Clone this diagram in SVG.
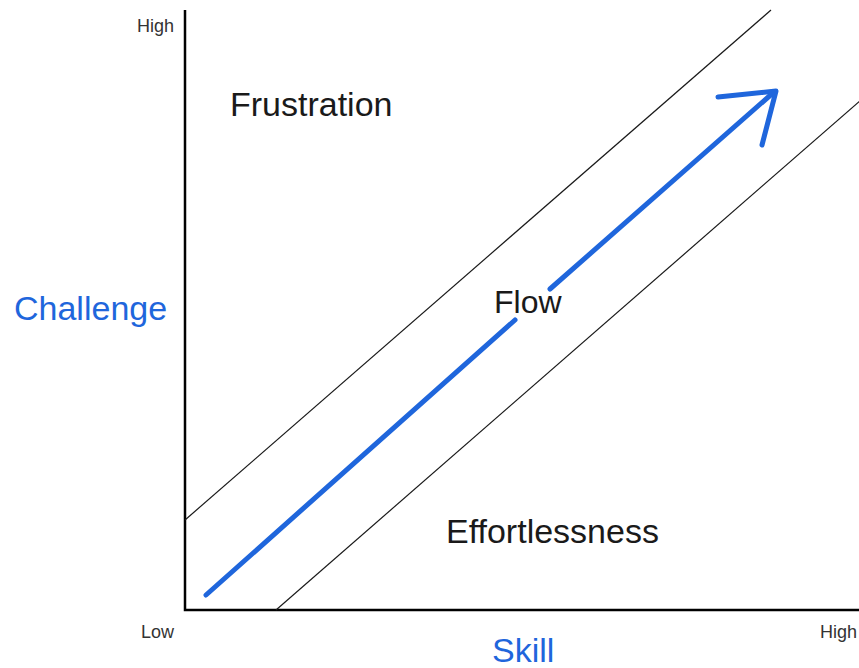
<svg xmlns="http://www.w3.org/2000/svg" width="859" height="668" viewBox="0 0 859 668">
  <style>
    .lbl { font-family: "Liberation Sans", Arial, sans-serif; fill: #1a1a1a; }
    .big { font-size: 34px; }
    .tick { font-size: 18px; fill: #333333; }
    .axisname { font-size: 34px; fill: #1f66dc; }
    .axis { stroke: #000000; stroke-width: 2.5; fill: none; }
    .band { stroke: #1a1a1a; stroke-width: 1.2; fill: none; }
    .trend { stroke: #1f66dc; stroke-width: 5; stroke-linecap: round; stroke-linejoin: round; fill: none; }
  </style>

  <rect width="859" height="668" fill="#ffffff"/>

  <!-- axes -->
  <g id="axes">
    <path class="axis" d="M185,10 V610 H859"/>
  </g>

  <!-- flow channel boundaries and the progression arrow -->
  <g id="connectors">
    <line class="band" x1="185" y1="520" x2="771" y2="10"/>
    <line class="band" x1="276" y1="610" x2="861" y2="100"/>
    <line class="trend" x1="206" y1="595" x2="515" y2="320"/>
    <line class="trend" x1="550" y1="289" x2="774" y2="92"/>
    <polyline class="trend" points="718,97 776,91 762,145"/>
  </g>

  <!-- tick labels -->
  <g id="tick-high-y"><text class="lbl tick" x="137" y="32">High</text></g>
  <g id="tick-low"><text class="lbl tick" x="141" y="638">Low</text></g>
  <g id="tick-high-x"><text class="lbl tick" x="820" y="638">High</text></g>

  <!-- axis names -->
  <g id="axis-challenge"><text class="lbl axisname" x="14" y="320">Challenge</text></g>
  <g id="axis-skill"><text class="lbl axisname" x="492" y="662" font-size="36">Skill</text></g>

  <!-- region labels -->
  <g id="region-frustration"><text class="lbl big" x="230" y="116">Frustration</text></g>
  <g id="region-flow"><text class="lbl" x="494" y="313" font-size="32">Flow</text></g>
  <g id="region-effortlessness"><text class="lbl big" x="446" y="543">Effortlessness</text></g>
</svg>
